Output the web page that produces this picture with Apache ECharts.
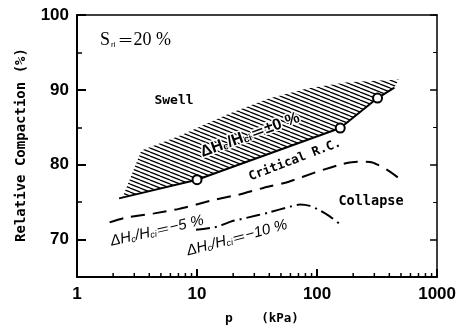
<!DOCTYPE html>
<html><head><meta charset="utf-8">
<script src="https://cdn.jsdelivr.net/npm/echarts@6/dist/echarts.min.js"></script>
<style>html,body{margin:0;padding:0;background:#fff}#c{width:459px;height:328px}</style>
</head><body><div id="c"></div>
<script>
// ---- data ----
const xTickLabels = ['1', '10', '100', '1000'];
const yTickLabels = ['70', '80', '90', '100'];
const xMinorTicks = [2,3,4,5,6,7,8,9,20,30,40,50,60,70,80,90,200,300,400,500,600,700,800,900];

// Critical R.C. line (ΔHc/Hci = ±0 %), lower edge of hatched band
const criticalP  = [2.24, 10, 156, 319, 441];
const criticalRC = [75.5, 78.0, 84.9, 88.9, 90.3];
// open circles
const pointP  = [10, 156, 319];
const pointRC = [78.0, 84.9, 88.9];
// upper edge of hatched band
const hatchTopP  = [2.4, 3.44, 7.5, 18.4, 39, 84, 180, 480];
const hatchTopRC = [75.7, 81.9, 84.0, 86.8, 88.8, 90.2, 91.0, 91.4];
// ΔHc/Hci = -5 %
const m5P  = [1.87, 2.49, 4.41, 7.09, 13.8, 22.2, 35.7, 57.4, 101.5, 163, 217, 289, 384, 531];
const m5RC = [72.3, 72.9, 73.5, 74.1, 75.3, 76.0, 76.9, 77.7, 79.1, 80.1, 80.4, 80.3, 79.3, 77.7];
// ΔHc/Hci = -10 %
const m10P  = [9.8, 14.6, 19.1, 25.8, 39.2, 59.6, 72.1, 87.2, 105.5, 127.6, 154];
const m10RC = [71.3, 71.7, 72.4, 72.9, 73.6, 74.4, 74.7, 74.5, 73.9, 73.1, 72.1];

const zip = (a, b) => a.map((v, i) => [v, b[i]]);

function makeHatch() {
  const c = document.createElement('canvas');
  c.width = 10; c.height = 4;
  const g = c.getContext('2d');
  g.strokeStyle = '#000'; g.lineWidth = 1.3;
  for (const off of [-4, 0, 4]) {
    g.beginPath(); g.moveTo(0, off); g.lineTo(10, off + 4); g.stroke();
  }
  return c;
}
const hatchCanvas = makeHatch();

const chart = echarts.init(document.getElementById('c'), null, {renderer: 'canvas'});
const mono = '"DejaVu Sans Mono", monospace';
const numFont = '"Liberation Sans Narrow", "Liberation Sans", Arial, sans-serif';
const sans = '"Liberation Sans", Arial, sans-serif';
const cjk = '"Noto Sans CJK JP", sans-serif';

function dhLabel(tail, italic, size, halo) {
  const base = {fontFamily: sans, fontStyle: italic ? 'italic' : 'normal', fontWeight: italic ? 'normal' : 'bold', fill: '#000'};
  const haloM = halo ? {stroke: '#fff', lineWidth: 3} : {};
  const haloS = halo ? {stroke: '#fff', lineWidth: 1.5} : {};
  return {
    text: '{m|ΔH}{s|c}{m|/H}{s|ci}{e|＝}{m|' + tail + '}', align: 'center', verticalAlign: 'middle',
    rich: {
      m: Object.assign({}, base, haloM, {fontSize: size}),
      s: Object.assign({}, base, haloS, {fontSize: Math.round(size * 0.6), verticalAlign: 'bottom'}),
      e: Object.assign({}, base, haloM, {fontFamily: cjk, fontStyle: 'normal', fontSize: size - 1})
    }
  };
}

const option = {
  animation: false,
  backgroundColor: '#fff',
  grid: {left: 77, right: 18, top: 15, bottom: 51},
  xAxis: [{
    type: 'log', logBase: 10, min: 1, max: 1000, position: 'bottom',
    axisLine: {lineStyle: {color: '#000', width: 2}},
    axisTick: {inside: true, length: 8, lineStyle: {color: '#000', width: 2}},
    axisLabel: {color: '#000', fontFamily: numFont, fontWeight: 'bold', fontSize: 17, margin: 9,
      formatter: v => xTickLabels.includes(String(Math.round(v))) ? String(Math.round(v)) : ''},
    splitLine: {show: false}
  }, {
    type: 'log', logBase: 10, min: 1, max: 1000, position: 'top',
    axisLine: {lineStyle: {color: '#000', width: 1.5}},
    axisTick: {show: false}, axisLabel: {show: false}, splitLine: {show: false}
  }],
  yAxis: [{
    type: 'value', min: 65, max: 100, splitNumber: 4, position: 'left',
    axisLine: {show: true, lineStyle: {color: '#000', width: 2}},
    axisTick: {inside: true, length: 9, lineStyle: {color: '#000', width: 2}},
    minorTick: {show: true, splitNumber: 2, length: 5, lineStyle: {color: '#000', width: 1.5}},
    axisLabel: {color: '#000', fontFamily: numFont, fontWeight: 'bold', fontSize: 17, margin: 8,
      formatter: v => yTickLabels.includes(String(v)) ? String(v) : ''},
    splitLine: {show: false}
  }, {
    type: 'value', min: 65, max: 100, splitNumber: 4, position: 'right',
    axisLine: {show: true, lineStyle: {color: '#000', width: 1.5}},
    axisTick: {inside: true, length: 7, lineStyle: {color: '#000', width: 1.5}},
    minorTick: {show: true, splitNumber: 2, length: 4, lineStyle: {color: '#000', width: 1}},
    axisLabel: {show: false}, splitLine: {show: false}
  }],
  series: [
    { // hatched band
      type: 'custom', xAxisIndex: 0, yAxisIndex: 0, z: 1, silent: true,
      data: [[hatchTopP[0], hatchTopRC[0]]],
      renderItem: (params, api) => {
        const pts = [];
        hatchTopP.forEach((p, i) => pts.push(api.coord([p, hatchTopRC[i]])));
        for (let i = criticalP.length - 1; i >= 0; i--) pts.push(api.coord([criticalP[i], criticalRC[i]]));
        return {type: 'polygon', shape: {points: pts},
          style: {fill: {image: hatchCanvas, repeat: 'repeat'}, stroke: null}};
      }
    },
    { // x minor ticks
      type: 'custom', xAxisIndex: 0, yAxisIndex: 0, z: 5, silent: true,
      data: xMinorTicks.map(v => [v, 65]),
      renderItem: (params, api) => {
        const pt = api.coord([api.value(0), 65]);
        return {type: 'line', shape: {x1: pt[0], y1: pt[1], x2: pt[0], y2: pt[1] - 4},
          style: {stroke: '#000', lineWidth: 1.5}};
      }
    },
    {
      type: 'line', data: zip(criticalP, criticalRC), showSymbol: false, z: 3,
      lineStyle: {color: '#000', width: 2}
    },
    {
      type: 'line', data: zip(m5P, m5RC), showSymbol: false, smooth: 0.2, z: 3,
      lineStyle: {color: '#000', width: 2, type: [14, 8]}
    },
    {
      type: 'line', data: zip(m10P, m10RC), showSymbol: false, smooth: 0.2, z: 3,
      lineStyle: {color: '#000', width: 2, type: [14, 5, 2, 5]}
    },
    {
      type: 'scatter', data: zip(pointP, pointRC), symbol: 'circle', symbolSize: 9, z: 6,
      itemStyle: {color: '#fff', borderColor: '#000', borderWidth: 2, opacity: 1}
    }
  ],
  graphic: [
    {type: 'text', x: 100, y: 40, z: 10, style: {
      text: '{a|S}{b|ri}{e|＝}{a|20 %}', align: 'left', verticalAlign: 'middle',
      rich: {a: {fontFamily: '"Liberation Serif", serif', fontSize: 18, fill: '#000'},
             b: {fontFamily: sans, fontSize: 8, fill: '#000', verticalAlign: 'bottom', padding: [6, 2, 0, 1]},
             e: {fontFamily: cjk, fontSize: 16, fill: '#000'}}}},
    {type: 'text', x: 174, y: 101, z: 10, style: {text: 'Swell', font: 'bold 13px ' + mono, fill: '#000', align: 'center', verticalAlign: 'middle'}},
    {type: 'text', x: 371, y: 201, z: 10, style: {text: 'Collapse', font: 'bold 13.5px ' + mono, fill: '#000', align: 'center', verticalAlign: 'middle'}},
    {type: 'text', x: 295, y: 160, z: 10, rotation: 21 * Math.PI / 180, style: {text: 'Critical R.C.', font: 'bold 12.5px ' + mono, fill: '#000', align: 'center', verticalAlign: 'middle'}},
    {type: 'text', x: 250, y: 135, z: 10, rotation: 20 * Math.PI / 180, style: dhLabel('±0 %', false, 16, true)},
    {type: 'text', x: 157, y: 231, z: 10, rotation: 13 * Math.PI / 180, style: dhLabel('−5 %', true, 15, false)},
    {type: 'text', x: 237, y: 238, z: 10, rotation: 15 * Math.PI / 180, style: dhLabel('−10 %', true, 15, false)},
    {type: 'text', x: 21, y: 145, z: 10, rotation: Math.PI / 2, style: {text: 'Relative Compaction (%)', font: 'bold 14px ' + mono, fill: '#000', align: 'center', verticalAlign: 'middle'}},
    {type: 'text', x: 229, y: 319, z: 10, style: {text: 'p', font: 'bold 13px ' + mono, fill: '#000', align: 'center', verticalAlign: 'middle'}},
    {type: 'text', x: 280, y: 319, z: 10, style: {text: '(kPa)', font: 'bold 12.5px ' + mono, fill: '#000', align: 'center', verticalAlign: 'middle'}}
  ]
};
chart.setOption(option);
</script>
</body></html>
